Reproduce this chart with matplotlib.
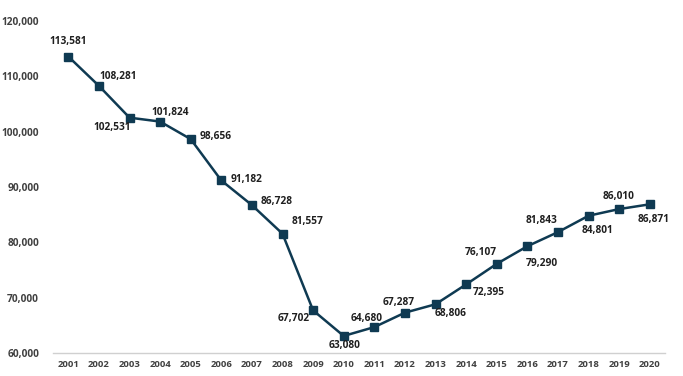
import matplotlib
matplotlib.use("Agg")
import matplotlib.pyplot as plt

years = [str(y) for y in range(2001, 2021)]
values = [113581, 108281, 102531, 101824, 98656, 91182, 86728, 81557, 67702, 63080,
          64680, 67287, 68806, 72395, 76107, 79290, 81843, 84801, 86010, 86871]
y_ticks = [60000, 70000, 80000, 90000, 100000, 110000, 120000]

# label offsets in pixels (dx, dy)
offsets = [(0, 15), (19, 9), (-17, -10), (10, 9), (25, 3), (25, 1), (25, 4), (25, 12),
           (-19, -8), (1, -10), (-8, 9), (-6, 10), (15, -9), (23, -8), (-16, 11),
           (15, -17), (-16, 12), (9, -15), (-1, 13), (4, -15)]

plt.rcParams['font.family'] = ['Open Sans', 'DejaVu Sans']

fig = plt.figure(figsize=(6.83, 3.76), dpi=100)
ax = fig.add_axes([53/683, 23/376, 612/683, 332/376])

x = list(range(len(years)))
color = '#0f3a52'
ax.plot(x, values, color=color, lw=1.8, marker='s', ms=6, mfc=color, mec=color, zorder=3)

for xi, v, (dx, dy) in zip(x, values, offsets):
    ax.annotate(f"{v:,}", (xi, v), xytext=(dx, dy), textcoords='offset pixels',
                ha='center', va='center', fontsize=7.3, color='#1f1f1f', fontweight='bold')

ax.set_xlim(-0.5, len(years) - 0.5)
ax.set_ylim(60000, 120000)
ax.set_xticks(x)
ax.set_xticklabels(years)
ax.set_yticks(y_ticks)
ax.set_yticklabels([f"{t:,}" for t in y_ticks])
ax.tick_params(axis='both', length=0, labelcolor='#404040')
ax.tick_params(axis='y', pad=10, labelsize=7.3)
ax.tick_params(axis='x', pad=5, labelsize=6.8)
for lab in ax.get_xticklabels() + ax.get_yticklabels():
    lab.set_fontweight('bold')
for s in ['top', 'right', 'left']:
    ax.spines[s].set_visible(False)
ax.spines['bottom'].set_color('#d0d0d0')
ax.spines['bottom'].set_linewidth(1)

fig.savefig('out.png', dpi=100)
